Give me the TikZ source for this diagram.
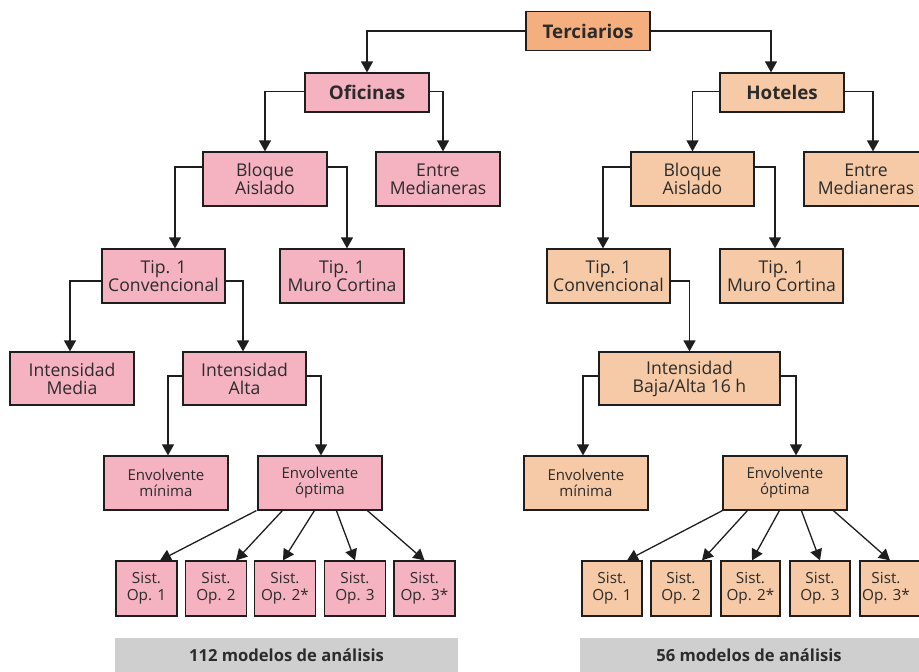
\documentclass[tikz,border=0pt]{standalone}
\usepackage{fontspec}
\setmainfont{Open Sans}
\usetikzlibrary{arrows.meta,calc}
\definecolor{corange}{HTML}{F5AF7F}
\definecolor{cpink}{HTML}{F5B3C1}
\definecolor{cpeach}{HTML}{F6CAA6}
\definecolor{cgray}{HTML}{CFCFCF}
\definecolor{ctext}{HTML}{2B2B2B}
\definecolor{cline}{HTML}{1E1E1E}
\begin{document}
\begin{tikzpicture}[x=1pt,y=-1pt,
  box/.style={draw=cline,line width=1.2pt,rectangle,inner sep=0pt,align=center,text=ctext,font=\fontsize{17.6}{18}\selectfont},
  topbox/.style={box,font=\bfseries\fontsize{18.8}{19}\selectfont,minimum width=124pt,minimum height=39pt},
  midbox/.style={box,minimum width=124pt,minimum height=54pt},
  smallbox/.style={box,font=\fontsize{15}{16}\selectfont,minimum width=124pt,minimum height=54pt},
  sistbox/.style={box,font=\fontsize{15.3}{17}\selectfont,minimum width=61pt,minimum height=55pt},
  pinkb/.style={fill=cpink},
  peachb/.style={fill=cpeach},
  bar/.style={fill=cgray,inner sep=0pt,font=\bfseries\fontsize{16.6}{17}\selectfont,text=ctext},
  conn/.style={line width=1.3pt,draw=cline,-{Triangle[width=12pt,length=11pt]}},
]
\useasboundingbox (0,0) rectangle (919,672);
\clip (0,0) rectangle (919,672);
% top
\node[topbox,fill=corange] (terc) at (588,31) {Terciarios};
\node[topbox,pinkb] (ofi) at (367,92.5) {Oficinas};
\node[topbox,peachb] (hot) at (782,92.5) {Hoteles};
% oficinas
\node[midbox,pinkb] (oba) at (265,179) {Bloque\\Aislado};
\node[midbox,pinkb] (oem) at (438,179) {Entre\\Medianeras};
\node[midbox,pinkb,minimum width=123pt] (otc) at (163.5,276) {Tip. 1\\Convencional};
\node[midbox,pinkb] (omc) at (342,276) {Tip. 1\\Muro Cortina};
\node[midbox,pinkb,minimum height=53pt] (oim) at (72,378.5) {Intensidad\\Media};
\node[midbox,pinkb,minimum height=53pt,minimum width=123pt] (oia) at (244.5,378.5) {Intensidad\\Alta};
\node[smallbox,pinkb] (oenm) at (166,483) {Envolvente\\mínima};
\node[smallbox,pinkb] (oeno) at (320,483) {Envolvente\\óptima};
\node[sistbox,pinkb] (os1) at (146.5,588.5) {Sist.\\Op. 1};
\node[sistbox,pinkb] (os2) at (216,588.5) {Sist.\\Op. 2};
\node[sistbox,pinkb] (os3) at (285,588.5) {Sist.\\Op. 2*};
\node[sistbox,pinkb] (os4) at (355,588.5) {Sist.\\Op. 3};
\node[sistbox,pinkb] (os5) at (424.5,588.5) {Sist.\\Op. 3*};
% hoteles
\node[midbox,peachb,minimum width=123pt] (hba) at (692.5,179) {Bloque\\Aislado};
\node[midbox,peachb] (hem) at (866,179) {Entre\\Medianeras};
\node[midbox,peachb,minimum width=123pt] (htc) at (608.5,276) {Tip. 1\\Convencional};
\node[midbox,peachb,minimum width=123pt] (hmc) at (781.5,276) {Tip. 1\\Muro Cortina};
\node[midbox,peachb,minimum height=53pt,minimum width=181pt] (hib) at (689.5,378.5) {Intensidad\\Baja/Alta 16 h};
\node[smallbox,peachb] (henm) at (586,483) {Envolvente\\mínima};
\node[smallbox,peachb] (heno) at (785,483) {Envolvente\\óptima};
\node[sistbox,peachb,minimum width=60pt] (hs1) at (612,588.5) {Sist.\\Op. 1};
\node[sistbox,peachb,minimum width=60pt] (hs2) at (681,588.5) {Sist.\\Op. 2};
\node[sistbox,peachb,minimum width=59pt] (hs3) at (750.5,588.5) {Sist.\\Op. 2*};
\node[sistbox,peachb,minimum width=60pt] (hs4) at (820,588.5) {Sist.\\Op. 3};
\node[sistbox,peachb,minimum width=64pt] (hs5) at (892,588.5) {Sist.\hspace*{12pt}\\Op. 3*\hspace*{12pt}};
% bars
\node[bar,minimum width=343pt,minimum height=34pt] (barl) at (286.5,655) {112 modelos de análisis};
\node[bar,minimum width=340pt,minimum height=34pt] (barr) at (750,655) {\hspace*{-2pt}56 modelos de análisis};
% connectors
\draw[conn] (terc.west) -| (ofi.north);
\draw[conn] (terc.east) -| ([xshift=-11pt]hot.north);
\draw[conn] ([yshift=1pt]ofi.west) -| (oba.north);
\draw[conn] ([yshift=1pt]ofi.east) -| ([xshift=5pt]oem.north);
\draw[conn] ([yshift=12pt]oba.west) -| ([xshift=11.5pt]otc.north);
\draw[conn] ([yshift=12pt]oba.east) -| ([xshift=5pt]omc.north);
\draw[conn] ([yshift=-5pt]otc.west) -| ([xshift=-2pt]oim.north);
\draw[conn] ([yshift=-5pt]otc.east) -| ([xshift=-1.5pt]oia.north);
\draw[conn] ([yshift=2.5pt]oia.west) -| ([xshift=2pt]oenm.north);
\draw[conn] ([yshift=2.5pt]oia.east) -| ([xshift=1pt]oeno.north);
\draw[conn] ($(oeno.south west)+(-1,0)$) -- ([xshift=13.5pt]os1.north);
\draw[conn] ($(oeno.south west)+(25,0)$) -- ([xshift=20pt]os2.north);
\draw[conn] ($(oeno.south west)+(57,0)$) -- ([xshift=-2pt]os3.north);
\draw[conn] ($(oeno.south west)+(79,0)$) -- (os4.north);
\draw[conn] ($(oeno.south west)+(110,0)$) -- (os5.north);
\draw[conn] ([yshift=1pt]hot.west) -| (hba.north);
\draw[conn] ([yshift=1pt]hot.east) -| ([xshift=7pt]hem.north);
\draw[conn] ([yshift=12pt]hba.west) -| ([xshift=-5.5pt]htc.north);
\draw[conn] ([yshift=12pt]hba.east) -| ([xshift=-6.5pt]hmc.north);
\draw[conn] ([yshift=-5pt]htc.east) -| (hib.north);
\draw[conn] ([yshift=2.5pt]hib.west) -| ([xshift=-3pt]henm.north);
\draw[conn] ([yshift=2.5pt]hib.east) -| ([xshift=11pt]heno.north);
\draw[conn] ($(heno.south west)+(0,0)$) -- ([xshift=15pt]hs1.north);
\draw[conn] ($(heno.south west)+(25,0)$) -- ([xshift=21pt]hs2.north);
\draw[conn] ($(heno.south west)+(57,0)$) -- ([xshift=1.5pt]hs3.north);
\draw[conn] ($(heno.south west)+(79,0)$) -- (hs4.north);
\draw[conn] ($(heno.south west)+(111,0)$) -- ([xshift=-2pt]hs5.north);
\end{tikzpicture}
\end{document}
